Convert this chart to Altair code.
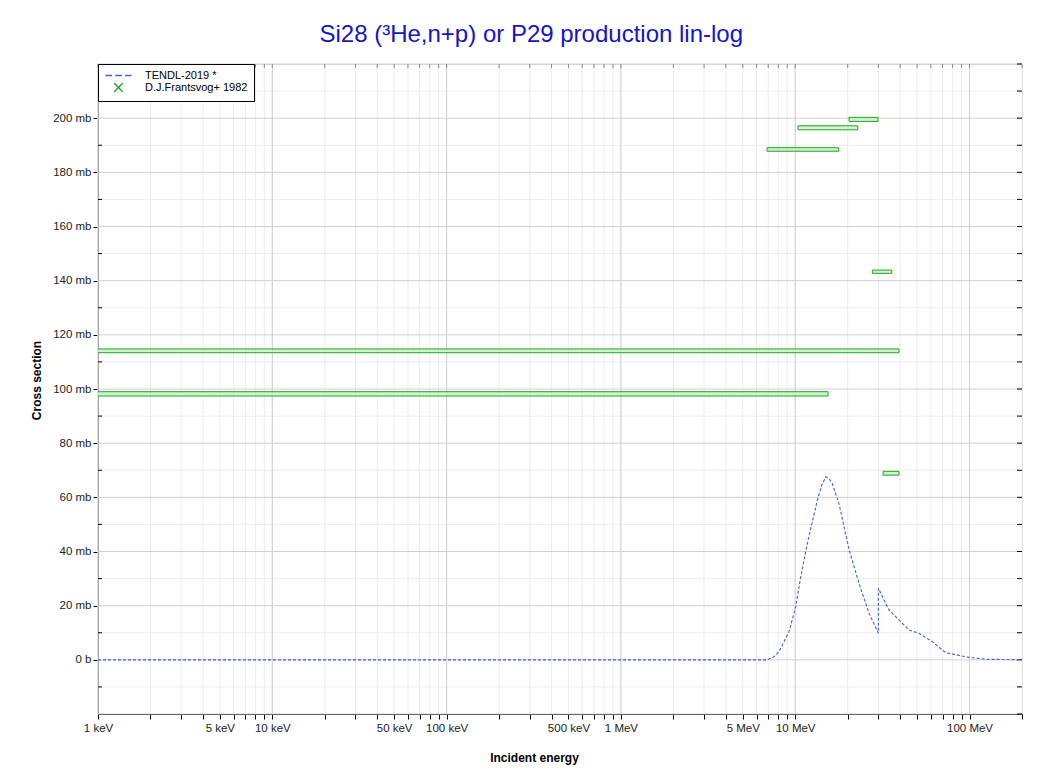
import altair as alt
import pandas as pd

# ---------------- data ----------------
series_names = ["TENDL-2019 *", "D.J.Frantsvog+ 1982"]

# TENDL-2019 evaluated curve (energy in MeV, cross section in mb)
tendl_energy_mev = [0.001, 6.92, 7.5, 8.07, 9.21, 10.06, 10.76, 11.74, 13.4, 14.2, 14.97,
                    15.6, 16.3, 17.8, 20.4, 23.2, 26.5, 30.0, 30.0, 34.5, 45.0, 51.3,
                    61.2, 73.0, 99.3, 124.0, 200.0]
tendl_xs_mb = [0.0, 0.0, 1.0, 3.0, 10.4, 19.6, 30.7, 43.0, 59.0, 64.5, 67.6,
               67.0, 65.2, 57.8, 40.6, 28.3, 17.2, 9.8, 26.4, 18.4, 11.0, 9.8,
               6.7, 2.6, 0.9, 0.2, 0.05]

# D.J.Frantsvog+ 1982 data boxes (energy range in MeV, cross-section range in mb)
exp_e_lo_mev = [20.35, 10.38, 6.89, 27.7, 31.9, 0.0001, 0.0001]
exp_e_hi_mev = [29.85, 22.84, 17.77, 35.8, 39.4, 39.4, 15.43]
exp_xs_lo_mb = [198.8, 195.7, 187.8, 142.7, 68.2, 113.4, 97.4]
exp_xs_hi_mb = [200.3, 197.2, 189.1, 143.9, 69.6, 114.8, 99.0]

# axis ticks / labels (energy in eV)
x_label_values = [1e3, 5e3, 1e4, 5e4, 1e5, 5e5, 1e6, 5e6, 1e7, 1e8]
x_label_texts = ["1 keV", "5 keV", "10 keV", "50 keV", "100 keV", "500 keV",
                 "1 MeV", "5 MeV", "10 MeV", "100 MeV"]
x_major_grid = [1e3, 1e4, 1e5, 1e6, 1e7, 1e8]
x_minor_grid = [k * 10.0 ** n for n in range(3, 9) for k in range(1, 10) if k * 10.0 ** n <= 2e8]
y_label_values = list(range(0, 201, 20))
y_all_ticks = list(range(-20, 221, 10))
y_major_grid = list(range(-20, 221, 20))
y_minor_grid = list(range(-10, 221, 20))

X_DOMAIN = [1e3, 2e8]
Y_DOMAIN = [-20, 220]

BLUE = "#3b62e0"
GREEN = "#1fa81f"
FONT = "Liberation Sans"
PLOT_W = 924
PLOT_H = 650

# ---------------- tables ----------------
tendl_df = pd.DataFrame({
    "E": [e * 1e6 for e in tendl_energy_mev],
    "xs": tendl_xs_mb,
    "idx": list(range(len(tendl_xs_mb))),
    "series": series_names[0],
})
exp_df = pd.DataFrame({
    "E_lo": [e * 1e6 for e in exp_e_lo_mev],
    "E_hi": [e * 1e6 for e in exp_e_hi_mev],
    "y_lo": exp_xs_lo_mb,
    "y_hi": exp_xs_hi_mb,
})
xmin_df = pd.DataFrame({"v": x_minor_grid})
xmaj_df = pd.DataFrame({"v": x_major_grid})
ymin_df = pd.DataFrame({"v": y_minor_grid})
ymaj_df = pd.DataFrame({"v": y_major_grid})
yall_df = pd.DataFrame({"v": y_all_ticks})

label_expr = " : ".join(
    f"abs(datum.value - {v}) < {v * 1e-6} ? '{t}'" for v, t in zip(x_label_values, x_label_texts)
) + " : ''"

x_scale = alt.Scale(type="log", domain=X_DOMAIN, nice=False)
y_scale = alt.Scale(domain=Y_DOMAIN, nice=False, zero=False)

x_axis = alt.Axis(values=x_minor_grid, labelExpr=label_expr, grid=False, title="Incident energy",
                  tickSize=5, labelPadding=3, labelFontSize=11.5, labelFont=FONT,
                  labelColor="#222", titleFont=FONT, titleFontSize=12, titleFontWeight="bold",
                  titleColor="#000", titleX=436, titleY=43, titleBaseline="middle",
                  domainColor="#000", tickColor="#000", labelFlush=False, labelOverlap=False)
y_axis = alt.Axis(values=y_label_values,
                  labelExpr="datum.value == 0 ? '0 b' : datum.value + ' mb'",
                  grid=False, title="Cross section", tickSize=5, labelPadding=2,
                  labelFontSize=11.5, labelFont=FONT, labelColor="#222", titleFont=FONT,
                  titleFontSize=12, titleFontWeight="bold", titleColor="#000",
                  titleX=-62, titleY=316, titleBaseline="middle",
                  domainColor="#000", tickColor="#000", labelOverlap=False)


def X(field):
    return alt.X(f"{field}:Q", scale=x_scale, axis=x_axis)


def Y(field):
    return alt.Y(f"{field}:Q", scale=y_scale, axis=y_axis)


minor_vx = alt.Chart(xmin_df).mark_rule(color="#ececec", strokeWidth=1).encode(x=X("v"))
major_vx = alt.Chart(xmaj_df).mark_rule(color="#d0d0d0", strokeWidth=1).encode(x=X("v"))
minor_hy = alt.Chart(ymin_df).mark_rule(color="#ececec", strokeWidth=1).encode(y=Y("v"))
major_hy = alt.Chart(ymaj_df).mark_rule(color="#d0d0d0", strokeWidth=1).encode(y=Y("v"))

# small inward ticks (left minor, right all, top all)
left_minor_ticks = alt.Chart(ymin_df).mark_rule(color="#000", strokeWidth=1).encode(
    y=Y("v"), x=alt.value(0), x2=alt.value(4))
right_ticks = alt.Chart(yall_df).mark_rule(color="#000", strokeWidth=1).encode(
    y=Y("v"), x=alt.value(PLOT_W - 5), x2=alt.value(PLOT_W))
top_ticks = alt.Chart(xmin_df).mark_rule(color="#888", strokeWidth=1).encode(
    x=X("v"), y=alt.value(0), y2=alt.value(4))

dash_path = "M-3.25,0L-1.6,0M-0.8,0L0.85,0M1.65,0L3.25,0"
x_path = "M-1.1,-1.1L1.1,1.1M-1.1,1.1L1.1,-1.1"

legend = alt.Legend(
    title=None, orient="top-left", offset=0, padding=6, rowPadding=-1,
    strokeColor="#000", fillColor="#fff", labelFont=FONT, labelFontSize=11,
    labelColor="#000", symbolSize=64, symbolOffset=9, labelOffset=21,
    symbolStrokeWidth=1.4, symbolFillColor="transparent",
    symbolType=alt.ExprRef(expr=f"datum.label === '{series_names[0]}' ? '{dash_path}' : '{x_path}'"),
    symbolDash=[1, 0],
)

line = alt.Chart(tendl_df).mark_line(strokeDash=[3, 2], strokeWidth=1.1, clip=True).encode(
    x=X("E"), y=Y("xs"), order="idx:Q",
    color=alt.Color("series:N", scale=alt.Scale(domain=series_names, range=[BLUE, GREEN]),
                    legend=legend),
)

rects = alt.Chart(exp_df).mark_rect(clip=True, stroke=GREEN, strokeWidth=1,
                                    fill="#c8ecc8", fillOpacity=0.8).encode(
    x=X("E_lo"), x2="E_hi", y=Y("y_lo"), y2="y_hi",
)

chart = alt.layer(minor_vx, minor_hy, major_vx, major_hy, left_minor_ticks, right_ticks,
                  top_ticks, line, rects).properties(
    width=PLOT_W, height=PLOT_H,
    padding={"left": 22, "top": 14, "right": 10, "bottom": 5},
    title=alt.TitleParams("Si28 (³He,n+p) or P29 production lin-log", fontSize=24, font=FONT,
                          fontWeight="normal", color="#1414c8", anchor="middle",
                          frame="bounds", offset=17, dx=5),
).configure_view(stroke="#000", strokeWidth=1).configure(background="white")

chart.save("out.html", embed_options={"renderer": "svg", "actions": False})
